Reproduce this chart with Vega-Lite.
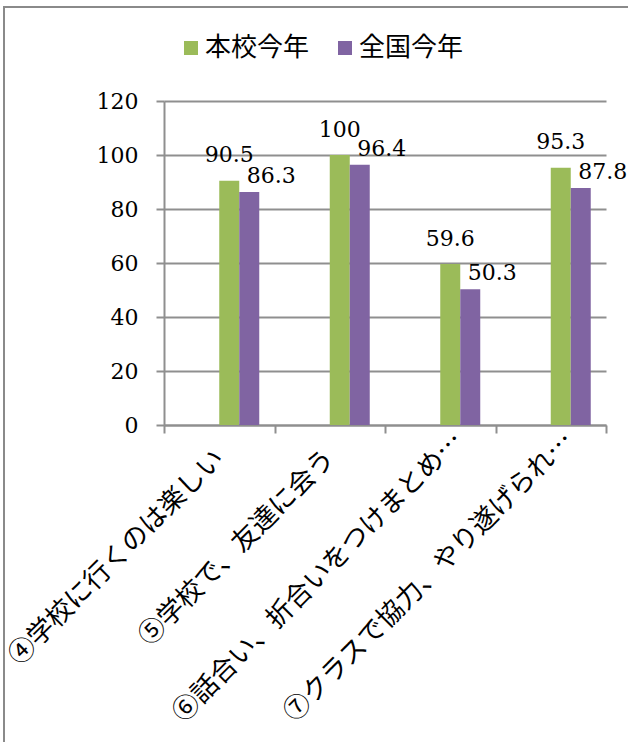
{
  "$schema": "https://vega.github.io/schema/vega-lite/v6.json",
  "width": 640,
  "height": 760,
  "autosize": "none",
  "padding": {"left": 4, "top": 7, "right": 0, "bottom": 0},
  "background": "#ffffff",
  "config": {
    "view": {"stroke": "#8a8a8a", "strokeWidth": 2},
    "axis": {
      "domainColor": "#8f8f8f",
      "domainWidth": 2,
      "tickColor": "#8f8f8f",
      "tickWidth": 2,
      "tickSize": 8,
      "gridColor": "#8f8f8f",
      "gridWidth": 2,
      "labelColor": "#000000",
      "title": null
    }
  },
  "data": {
    "values": [
      {"item": "④学校に行くのは楽しい", "group": "本校今年", "value": 90.5},
      {"item": "④学校に行くのは楽しい", "group": "全国今年", "value": 86.3},
      {"item": "⑤学校で、友達に会う", "group": "本校今年", "value": 100},
      {"item": "⑤学校で、友達に会う", "group": "全国今年", "value": 96.4},
      {"item": "⑥話合い、折合いをつけまとめ…", "group": "本校今年", "value": 59.6},
      {"item": "⑥話合い、折合いをつけまとめ…", "group": "全国今年", "value": 50.3},
      {"item": "⑦クラスで協力、やり遂げられ…", "group": "本校今年", "value": 95.3},
      {"item": "⑦クラスで協力、やり遂げられ…", "group": "全国今年", "value": 87.8}
    ]
  },
  "encoding": {
    "x": {
      "field": "item",
      "type": "nominal",
      "sort": null,
      "scale": {"range": [160, 602], "paddingInner": 0, "paddingOuter": 0},
      "axis": {
        "offset": -342,
        "grid": false,
        "tickBand": "extent",
        "labelAngle": -45,
        "labelAlign": "right",
        "labelBaseline": "middle",
        "labelLimit": 0,
        "labelFont": "Noto Sans CJK JP",
        "labelFontSize": 26.5,
        "labelPadding": {"condition": {"test": "indexof(datum.label, '…') >= 0", "value": 3}, "value": 21},
        "labelOffset": {"condition": {"test": "indexof(datum.label, '…') >= 0", "value": 18}, "value": 0}
      }
    },
    "xOffset": {
      "field": "group",
      "type": "nominal",
      "sort": ["本校今年", "全国今年"],
      "scale": {"range": [55.25, 95.25], "paddingInner": 0, "paddingOuter": 0}
    },
    "y": {
      "field": "value",
      "type": "quantitative",
      "scale": {"domain": [0, 120], "range": [418, 94], "nice": false},
      "axis": {
        "offset": -160,
        "values": [0, 20, 40, 60, 80, 100, 120],
        "labelFont": "DejaVu Serif",
        "labelFontSize": 22,
        "labelPadding": 18
      }
    }
  },
  "layer": [
    {
      "mark": {"type": "bar"},
      "encoding": {
        "color": {
          "field": "group",
          "type": "nominal",
          "sort": ["本校今年", "全国今年"],
          "scale": {"domain": ["本校今年", "全国今年"], "range": ["#9bbb59", "#8064a2"]},
          "legend": {
            "orient": "none",
            "legendX": 174,
            "legendY": 28,
            "direction": "horizontal",
            "title": null,
            "padding": 0,
            "symbolType": "square",
            "symbolSize": 196,
            "symbolStrokeWidth": 0,
            "labelFont": "Noto Sans CJK JP",
            "labelFontSize": 26,
            "labelColor": "#000000",
            "labelOffset": 1,
            "columnPadding": 22
          }
        }
      }
    },
    {
      "transform": [{"filter": "datum.group === '本校今年'"}],
      "mark": {"type": "text", "font": "DejaVu Serif", "fontSize": 22, "color": "#000000", "align": "center", "baseline": "alphabetic", "dy": -18.5},
      "encoding": {"text": {"field": "value", "type": "quantitative"}}
    },
    {
      "transform": [{"filter": "datum.group === '全国今年'"}],
      "mark": {"type": "text", "font": "DejaVu Serif", "fontSize": 22, "color": "#000000", "align": "center", "baseline": "alphabetic", "dx": 22, "dy": -8.7},
      "encoding": {"text": {"field": "value", "type": "quantitative"}}
    }
  ]
}
